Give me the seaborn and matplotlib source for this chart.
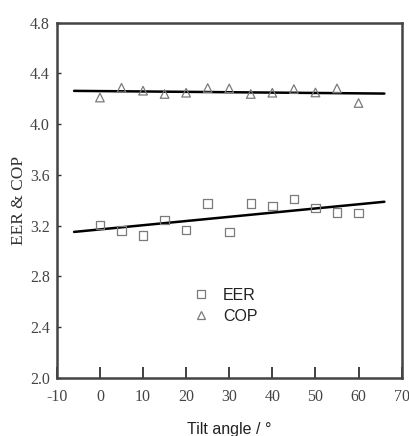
import numpy as np
import pandas as pd
import matplotlib
matplotlib.use("Agg")
import matplotlib.pyplot as plt
import seaborn as sns

# Tilt angle (degrees) and measured performance
tilt = [0, 5, 10, 15, 20, 25, 30, 35, 40, 45, 50, 55, 60]
eer = [3.207, 3.162, 3.123, 3.246, 3.167, 3.373, 3.149, 3.373, 3.357, 3.410, 3.339, 3.304, 3.300]
cop = [4.210, 4.287, 4.264, 4.238, 4.248, 4.285, 4.282, 4.238, 4.248, 4.277, 4.250, 4.282, 4.167]
fit_range = [-6, 66]

x_ticks = [-10, 0, 10, 20, 30, 40, 50, 60, 70]
y_ticks = [2.0, 2.4, 2.8, 3.2, 3.6, 4.0, 4.4, 4.8]

sns.set_theme(style="ticks")
plt.rcParams["font.family"] = ["Liberation Serif", "DejaVu Serif"]
plt.rcParams["axes.unicode_minus"] = False

df = pd.DataFrame({"tilt": tilt, "EER": eer, "COP": cop})
long = df.melt(id_vars="tilt", var_name="metric", value_name="value")

fig = plt.figure(figsize=(4.09, 4.36), dpi=100)
ax = fig.add_axes([0.139, 0.133, 0.843, 0.815])

# linear trend lines for each metric
xf = np.array(fit_range, dtype=float)
for name in ["EER", "COP"]:
    k, b = np.polyfit(df["tilt"], df[name], 1)
    sns.lineplot(x=xf, y=k * xf + b, ax=ax, color="black", lw=1.8, legend=False, zorder=2)

sns.scatterplot(data=long, x="tilt", y="value", style="metric",
                markers={"EER": "s", "COP": "^"}, ax=ax,
                s=38, facecolor="none", edgecolor="#7a7a7a", linewidth=0.9, zorder=3)

ax.set_xlim(-10, 70)
ax.set_ylim(2.0, 4.8)
ax.set_xticks(x_ticks)
ax.set_yticks(y_ticks)
ax.set_yticklabels([f"{v:.1f}" for v in y_ticks])
ax.tick_params(axis="x", direction="in", length=8, width=1.3, colors="#333333",
               labelsize=11.5, pad=8)
ax.tick_params(axis="y", direction="in", length=3, width=1.0, colors="#333333",
               labelsize=11.5, pad=5)
for lbl in ax.get_xticklabels() + ax.get_yticklabels():
    lbl.set_color("#444444")
for sp in ax.spines.values():
    sp.set_visible(True)
    sp.set_linewidth(1.8)
    sp.set_color("#444444")

ax.set_ylabel("EER & COP", fontsize=12.5, color="#333333", labelpad=2)
ax.set_xlabel("Tilt angle / °", fontsize=11.5,
              family=["Liberation Sans Narrow", "Liberation Sans", "DejaVu Sans"],
              color="#222222", labelpad=12)

handles, labels = ax.get_legend_handles_labels()
leg = ax.legend(handles, labels, loc="center left", bbox_to_anchor=(0.35, 0.203),
                frameon=False, handletextpad=0.35, labelspacing=0.4, borderpad=0,
                markerscale=0.85,
                prop={"family": ["Liberation Sans Narrow", "Liberation Sans", "DejaVu Sans"],
                      "size": 11.5})
for t in leg.get_texts():
    t.set_color("#222222")

fig.savefig("out.png", dpi=100)
